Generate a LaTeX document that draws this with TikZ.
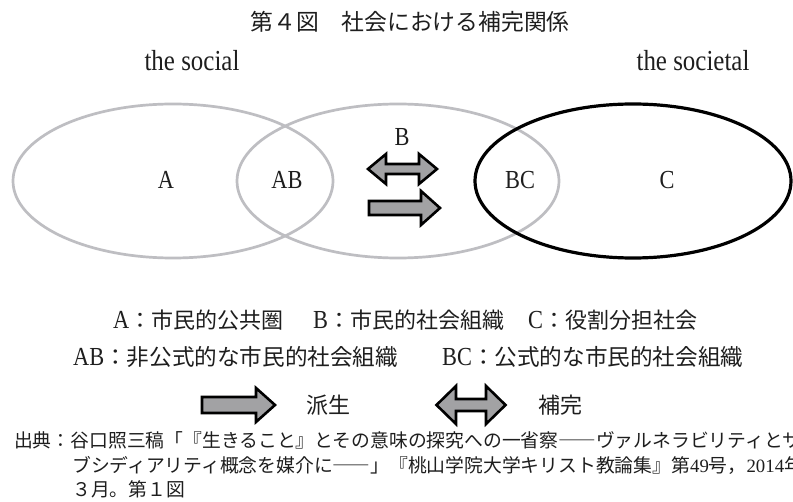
\documentclass[tikz,border=0pt]{standalone}
\usepackage{fontspec}
\setmainfont{Noto Sans CJK JP}
\newfontfamily\lsf[FakeStretch=0.86]{Liberation Serif}
\newfontfamily\lsfn{Liberation Serif}
\newcommand{\latk}[1]{{\lsf\fontsize{26bp}{26bp}\selectfont #1}}
\definecolor{ringgray}{HTML}{BEBEC2}
\definecolor{arrowgray}{HTML}{A2A2A4}
\definecolor{inkc}{HTML}{1E1E1E}
\begin{document}
\begin{tikzpicture}[x=1bp,y=-1bp,
  ringA/.style={draw=ringgray, line width=2.7bp},
  ringC/.style={draw=black, line width=3.2bp},
  arrowbox/.style={draw=black, line width=2.6bp, fill=arrowgray, line join=miter},
  lbl/.style={inner sep=0, text=inkc, font=\lsf\fontsize{26bp}{26bp}\selectfont},
  head/.style={inner sep=0, text=inkc, font=\lsf\fontsize{29bp}{29bp}\selectfont},
  title/.style={inner sep=0, text=inkc, font=\fontsize{22.8bp}{22.8bp}\selectfont},
  legend/.style={inner sep=0, text=inkc, font=\fontsize{22bp}{22bp}\selectfont},
  legendb/.style={inner sep=0, text=inkc, font=\fontsize{22.6bp}{22.6bp}\selectfont},
  note/.style={inner sep=0, text=inkc, anchor=west, font=\fontsize{18.8bp}{18.8bp}\selectfont}]
\useasboundingbox (0,0) rectangle (793,502);
\fill[white] (0,0) rectangle (793,502);

% title and headings
\node[title] (ttl) at (410,22) {第４図　社会における補完関係};
\node[head] (hsoc) at (192,61) {the social};
\node[head] (hsoct) at (693,61) {the societal};

% ellipses
\draw[ringA] (173,181) ellipse [x radius=160, y radius=77];
\draw[ringA] (398,181) ellipse [x radius=161, y radius=77];
\draw[ringC] (633,181) ellipse [x radius=158, y radius=77];

% region labels
\node[lbl] (la) at (166,180) {A};
\node[lbl] (lab) at (287,180) {AB};
\node[lbl] (lb) at (402,137) {B};
\node[lbl] (lbc) at (520,180) {BC};
\node[lbl] (lc) at (667,180) {C};

% arrows in diagram
\begin{scope}[shift={(402.5,169)}]
  \draw[arrowbox] (-34.5,0) -- (-16.5,-15) -- (-16.5,-5) -- (16.5,-5) -- (16.5,-15)
     -- (34.5,0) -- (16.5,15) -- (16.5,5) -- (-16.5,5) -- (-16.5,15) -- cycle;
\end{scope}
\begin{scope}[shift={(404.5,208)}]
  \draw[arrowbox] (-35.5,-7) -- (16.5,-7) -- (16.5,-17) -- (35.5,0) -- (16.5,17)
     -- (16.5,7) -- (-35.5,7) -- cycle;
\end{scope}

% legend text
\node[legend, anchor=west] (kA) at (113,320) {\latk{A}：市民的公共圏};
\node[legend, anchor=west] (kB) at (313,320) {\latk{B}：市民的社会組織};
\node[legend, anchor=west] (kC) at (528,320) {\latk{C}：役割分担社会};
\node[legendb, anchor=west] (kAB) at (73,357) {\latk{AB}：非公式的な市民的社会組織};
\node[legendb, anchor=west] (kBC) at (442,357) {\latk{BC}：公式的な市民的社会組織};

% legend arrows
\begin{scope}[shift={(238.5,405)}]
  \draw[arrowbox] (-36.5,-8) -- (17.5,-8) -- (17.5,-17) -- (36.5,0) -- (17.5,17)
     -- (17.5,8) -- (-36.5,8) -- cycle;
\end{scope}
\node[legend] (kder) at (328,405) {派生};
\begin{scope}[shift={(471,405)}]
  \draw[arrowbox] (-34.5,0) -- (-15,-19) -- (-15,-6) -- (15,-6) -- (15,-19)
     -- (34.5,0) -- (15,19) -- (15,6) -- (-15,6) -- (-15,19) -- cycle;
\end{scope}
\node[legend] (kcomp) at (560,405) {補完};

% source note
\node[note] (n1) at (14,440) {出典：谷口照三稿「『生きること』とその意味の探究への一省察――ヴァルネラビリティとサ};
\node[note] (n2) at (72,465) {ブシディアリティ概念を媒介に――」『桃山学院大学キリスト教論集』第{\lsfn 49}号，{\lsfn 2014}年};
\node[note] (n3) at (72,489) {３月。第１図};
\end{tikzpicture}
\end{document}
